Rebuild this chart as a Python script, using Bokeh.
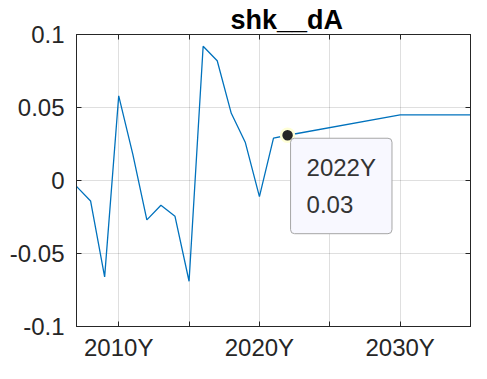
from bokeh.plotting import figure
from bokeh.models import (FixedTicker, LinearAxis, Range1d, Label, ColumnDataSource)
from bokeh.embed import file_html
from bokeh.resources import INLINE

# ---- data ----
years = [2007, 2008, 2009, 2010, 2011, 2012, 2013, 2014, 2015, 2016, 2017,
         2018, 2019, 2020, 2021, 2022, 2030, 2035]
values = [-0.004, -0.014, -0.066, 0.058, 0.018, -0.027, -0.017, -0.0245, -0.069,
          0.092, 0.082, 0.046, 0.026, -0.011, 0.029, 0.031, 0.045, 0.045]
x_ticks = [2010, 2015, 2020, 2025, 2030, 2035]
x_tick_labels = ["2010Y", "", "2020Y", "", "2030Y", ""]
y_ticks = [-0.1, -0.05, 0, 0.05, 0.1]
y_tick_labels = ["-0.1", "-0.05", "0", "0.05", "0.1"]
tip_index = 15  # 2022
title_text = "shk__dA"

FONT = "Liberation Sans"
AX = "#262626"

p = figure(width=471, height=363, output_backend="svg", toolbar_location=None,
           x_range=Range1d(2007, 2035), y_range=Range1d(-0.1, 0.1),
           min_border_left=76, min_border_right=1, min_border_top=34,
           min_border_bottom=35, background_fill_color="white",
           border_fill_color="white")
p.outline_line_color = AX
p.outline_line_width = 1

p.title.text = title_text
p.title.text_font = FONT
p.title.text_font_size = "27px"
p.title.text_font_style = "bold"
p.title.align = "left"
p.title.text_color = "black"
p.title.offset = 154
p.title.standoff = 0

xt = FixedTicker(ticks=x_ticks)
yt = FixedTicker(ticks=y_ticks)

for ax in p.xaxis:
    ax.ticker = xt
    ax.major_label_overrides = {t: l for t, l in zip(x_ticks, x_tick_labels)}
for ax in p.yaxis:
    ax.ticker = yt
    ax.major_label_overrides = {t: l for t, l in zip(y_ticks, y_tick_labels)}

for ax in list(p.xaxis) + list(p.yaxis):
    ax.axis_line_color = AX
    ax.major_tick_line_color = AX
    ax.major_tick_in = 5
    ax.major_tick_out = 0
    ax.minor_tick_line_color = None
    ax.major_label_text_font = FONT
    ax.major_label_text_font_size = "24px"
    ax.major_label_text_color = AX
p.xaxis.major_label_standoff = 7
p.yaxis.major_label_standoff = 12

# top and right axes (ticks only)
top = LinearAxis(ticker=xt, major_label_text_font_size="0px", major_tick_in=5,
                 major_tick_out=0, minor_tick_line_color=None, axis_line_color=AX,
                 major_tick_line_color=AX, major_label_standoff=0,
                 major_label_overrides={t: "" for t in x_ticks})
right = LinearAxis(ticker=yt, major_label_text_font_size="0px", major_tick_in=5,
                   major_tick_out=0, minor_tick_line_color=None, axis_line_color=AX,
                   major_tick_line_color=AX, major_label_standoff=0,
                   major_label_overrides={t: "" for t in y_ticks})
p.add_layout(top, "above")
p.add_layout(right, "right")

p.xgrid.ticker = xt
p.ygrid.ticker = yt
p.grid.grid_line_color = AX
p.grid.grid_line_alpha = 0.15

src = ColumnDataSource(dict(x=years, y=values))
p.line("x", "y", source=src, line_color="#0072BD", line_width=1.3)

tx, ty = years[tip_index], values[tip_index]
p.scatter([tx], [ty], size=13, fill_color="#262626", line_color="#FFFFD6",
          line_width=2.5)

tip = Label(x=tx, y=ty, x_offset=3, y_offset=-3,
            text=f"{tx}Y\n{ty:.2f}", text_font=FONT, text_font_size="24px",
            text_color="#333333", text_align="left", text_baseline="top",
            text_line_height=1.35,
            background_fill_color="#F8F8FF", border_line_color="#A6A6A6",
            border_line_width=1, padding=16, border_radius=4)
p.add_layout(tip)

open("out.html", "w").write(file_html(p, INLINE))
